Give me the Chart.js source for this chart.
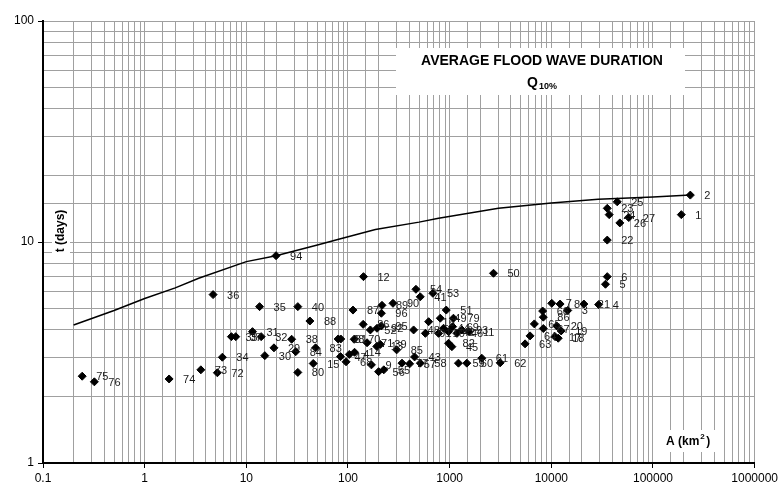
<!DOCTYPE html>
<html>
<head>
<meta charset="utf-8">
<title>Average flood wave duration</title>
<script src="https://cdn.jsdelivr.net/npm/chart.js@4.4.0/dist/chart.umd.min.js"></script>
<style>
  html, body { margin: 0; padding: 0; background: #fff; }
  canvas { display: block; }
</style>
</head>
<body>
<canvas id="floodChart" width="781" height="489"></canvas>
<script>
// stations: catchment area A (km2), flood wave duration t (days), station no.
const stationArea = [
  0.243, 0.32, 1.74, 3.57, 5.19, 5.81, 4.71, 7.13, 7.87, 11.5,
  14.0, 13.5, 18.7, 15.2, 19.6, 32.1, 42.2, 27.9, 30.6, 32.1,
  48.0, 45.5, 80.0, 84.9, 115, 154, 208, 192, 84.4, 103,
  116, 95.7, 170, 200, 225, 340, 404, 452, 515, 301,
  112, 142, 141, 166, 193, 213, 213, 216, 277, 466,
  514, 684, 621, 926, 809, 1090, 1070, 871, 778, 975,
  1180, 1320, 1550, 442, 577, 975, 1052, 1220, 1475, 2070,
  3140, 2700, 5520, 6180, 6810, 8220, 8340, 8340, 10900, 11700,
  12500, 11300, 10100, 12200, 14500, 20900, 29200, 44500, 35500, 37100,
  47200, 57800, 35500, 190000, 233000, 35500, 34100
];
const stationT = [
  2.47, 2.33, 2.40, 2.64, 2.56, 3.01, 5.78, 3.73, 3.73, 3.93,
  3.73, 5.10, 3.32, 3.06, 8.67, 5.10, 4.39, 3.63, 3.19, 2.57,
  3.32, 2.82, 3.64, 3.64, 3.63, 3.50, 3.44, 3.37, 3.03, 3.10,
  3.17, 2.87, 2.78, 2.59, 2.64, 2.83, 2.81, 3.02, 2.83, 3.25,
  4.92, 6.97, 4.24, 4.00, 4.07, 4.17, 4.76, 5.17, 5.28, 6.11,
  5.65, 5.86, 4.36, 4.92, 4.52, 4.52, 4.14, 4.07, 3.86, 3.93,
  3.86, 4.00, 3.93, 4.00, 3.86, 3.48, 3.36, 2.83, 2.83, 2.98,
  2.84, 7.22, 3.46, 3.76, 4.26, 4.87, 4.57, 4.06, 3.73, 3.67,
  3.96, 4.17, 5.28, 5.24, 4.90, 5.24, 5.21, 15.2, 14.2, 13.3,
  12.2, 12.9, 10.2, 13.3, 16.3, 6.97, 6.44
];
const stationIds = [
  '75', '76', '74', '73', '72', '34', '36', '33', '37', '31',
  '32', '35', '29', '30', '94', '40', '88', '38', '84', '80',
  '83', '15', '28', '81', '70', '71', '39', '13', '47', '4',
  '14', '68', '9', '56', '55', '77', '57', '43', '58', '85',
  '87', '12', '86', '52', '92', '95', '96', '89', '90', '54',
  '41', '53', '16', '51', '49', '79', '69', '44', '10', '42',
  '46', '93', '11', '48', '91', '82', '45', '59', '60', '61',
  '62', '50', '63', '64', '65', '66', '86', '67', '17', '18',
  '19', '20', '7', '8', '3', '21', '4', '25', '23', '24',
  '26', '27', '22', '1', '2', '6', '5'
];

// envelope curve
const curveArea = [0.2, 0.5, 1, 2, 3.4, 10, 19.6, 50, 81, 186, 500, 778, 3020, 10000, 28900, 100000, 233000];
const curveT = [4.21, 4.9, 5.55, 6.2, 6.85, 8.15, 8.67, 9.7, 10.3, 11.4, 12.3, 12.8, 14.2, 15.0, 15.6, 16.0, 16.3];

const FONT = '"Liberation Sans", Arial, sans-serif';

const isDecade = v => Math.abs(Math.log10(v) - Math.round(Math.log10(v))) < 1e-6;

const pointLabels = {
  id: 'pointLabels',
  beforeDatasetsDraw(chart) {
    const ctx = chart.ctx;
    ctx.save();
    ctx.fillStyle = '#fff';
    // title box and axis title boxes hide the grid
    ctx.fillRect(396, 48, 289, 47);
    ctx.fillRect(52, 205, 18, 52);
    ctx.fillRect(662, 430, 56, 22);
    ctx.restore();
  },
  afterDatasetsDraw(chart) {
    const ctx = chart.ctx;
    const meta = chart.getDatasetMeta(0);
    ctx.save();
    ctx.font = '11px ' + FONT;
    ctx.fillStyle = '#1a1a1a';
    ctx.textBaseline = 'middle';
    meta.data.forEach((pt, i) => ctx.fillText(stationIds[i], pt.x + 14, pt.y + 1));

    ctx.fillStyle = '#000';
    ctx.textAlign = 'center';
    ctx.font = 'bold 14px ' + FONT;
    ctx.fillText('AVERAGE FLOOD WAVE DURATION', 542, 61);
    ctx.textAlign = 'left';
    ctx.fillText('Q', 527, 83);
    ctx.font = 'bold 9px ' + FONT;
    ctx.fillText('10%', 539, 87);

    // y title
    ctx.save();
    ctx.translate(61, 231);
    ctx.rotate(-Math.PI / 2);
    ctx.textAlign = 'center';
    ctx.font = 'bold 12px ' + FONT;
    ctx.fillText('t (days)', 0, 0);
    ctx.restore();

    // x title
    ctx.font = 'bold 12px ' + FONT;
    ctx.textAlign = 'left';
    ctx.fillText('A (km', 666, 442);
    const w = ctx.measureText('A (km').width;
    ctx.font = 'bold 8px ' + FONT;
    ctx.fillText('2', 666 + w + 1, 437);
    ctx.font = 'bold 12px ' + FONT;
    ctx.fillText(')', 666 + w + 7, 442);
    ctx.restore();
  }
};

const gridOpts = {
  color: '#a0a0a0',
  lineWidth: 1,
  tickLength: 5,
  tickColor: c => (c.tick && isDecade(c.tick.value)) ? '#000' : 'rgba(0,0,0,0)'
};

new Chart(document.getElementById('floodChart'), {
  type: 'scatter',
  data: {
    datasets: [
      {
        data: stationArea.map((a, i) => ({ x: a, y: stationT[i] })),
        pointStyle: 'rectRot',
        pointRadius: 4,
        backgroundColor: '#000',
        borderColor: '#000',
        borderWidth: 1
      },
      {
        type: 'line',
        data: curveArea.map((a, i) => ({ x: a, y: curveT[i] })),
        borderColor: '#000',
        borderWidth: 1.5,
        pointRadius: 0,
        fill: false,
        tension: 0
      }
    ]
  },
  options: {
    responsive: false,
    animation: false,
    devicePixelRatio: 1,
    layout: { padding: { top: 21, right: 26, left: 0, bottom: 0 } },
    plugins: { legend: { display: false }, tooltip: { enabled: false } },
    scales: {
      x: {
        type: 'logarithmic',
        min: 0.1,
        max: 1000000,
        afterFit: s => { s.height = 26; },
        border: { color: '#000', width: 2 },
        grid: gridOpts,
        ticks: {
          autoSkip: false,
          maxRotation: 0,
          padding: 3,
          color: '#000',
          font: { family: FONT, size: 12 },
          callback: v => isDecade(v) ? String(+Number(v).toPrecision(3)) : ''
        }
      },
      y: {
        type: 'logarithmic',
        min: 1,
        max: 100,
        afterFit: s => { s.width = 43; },
        border: { color: '#000', width: 2 },
        grid: gridOpts,
        ticks: {
          autoSkip: false,
          padding: 4,
          color: '#000',
          font: { family: FONT, size: 12 },
          callback: v => isDecade(v) ? String(+Number(v).toPrecision(3)) : ''
        }
      }
    }
  },
  plugins: [pointLabels]
});
</script>
</body>
</html>
